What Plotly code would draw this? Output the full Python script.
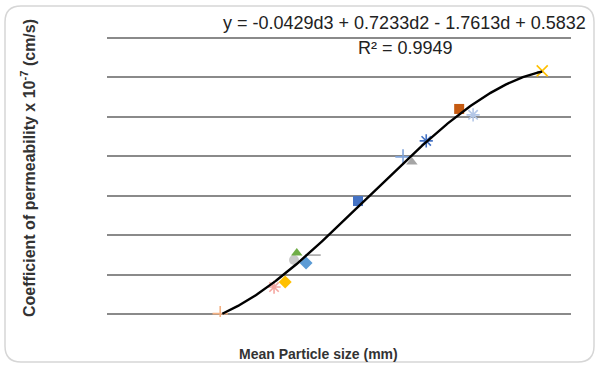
import numpy as np
import plotly.graph_objects as go

# Data (mean particle size mm, permeability x1e-7 cm/s)
sizes = [2.44, 3.60, 3.84, 4.03, 4.09, 4.29, 4.44, 5.41, 6.38, 6.57, 6.88, 7.59, 7.89, 9.38]
perm = [0.02, 1.37, 1.62, 2.74, 3.09, 2.59, 2.99, 5.73, 7.97, 7.71, 8.78, 10.40, 10.10, 12.33]
symbols = ["cross-thin-open", "asterisk-open", "diamond", "circle", "triangle-up", "diamond",
           "line-ew-open", "square", "cross-thin-open", "triangle-up", "asterisk-open", "square",
           "asterisk-open", "x-thin-open"]
colors = ["#F4B183", "#F4A6A0", "#FFC000", "#C9C9C9", "#70AD47", "#5B9BD5",
          "#A5A5A5", "#4472C4", "#7FA3D9", "#A5A5A5", "#4472C4", "#C55A11",
          "#B4C7E7", "#FFC000"]

# Trendline coefficients shown on the chart (cubic)
coef = [-0.0429, 0.7233, -1.7613, 0.5832]
eq_text = "y = -0.0429d3 + 0.7233d2 - 1.7613d + 0.5832"
r2_text = "R² = 0.9949"

x_range = [0, 10]
y_range = [-0.15, 14.15]
y_dtick = 2

W, H = 597, 365
L, R, T, B = 107, 26, 35, 48

fig = go.Figure()
for xv, yv, s, c in zip(sizes, perm, symbols, colors):
    thin = ("open" in s)
    fig.add_trace(go.Scatter(
        x=[xv], y=[yv], mode="markers",
        marker=dict(symbol=s, size=10 if not thin else 11, color=c,
                    line=dict(color=c, width=1.6 if thin else 0)),
        showlegend=False, hoverinfo="skip"))

d = np.linspace(min(sizes), max(sizes), 300)
fit = np.polyval(coef, d)
keep = fit >= 0
fig.add_trace(go.Scatter(x=d[keep], y=fit[keep], mode="lines", line=dict(color="black", width=2.4),
                         showlegend=False, hoverinfo="skip"))

pw, ph = W - L - R, H - T - B
def px(xp):
    return (xp - L) / pw
def py(yp):
    return (H - B - yp) / ph

# rounded border
x0, y0, x1, y1, r = 5, 6, 594, 362, 16
path = (f"M {px(x0+r)},{py(y0)} L {px(x1-r)},{py(y0)} Q {px(x1)},{py(y0)} {px(x1)},{py(y0+r)} "
        f"L {px(x1)},{py(y1-r)} Q {px(x1)},{py(y1)} {px(x1-r)},{py(y1)} "
        f"L {px(x0+r)},{py(y1)} Q {px(x0)},{py(y1)} {px(x0)},{py(y1-r)} "
        f"L {px(x0)},{py(y0+r)} Q {px(x0)},{py(y0)} {px(x0+r)},{py(y0)} Z")

def ann(text, x, y, size, family="Liberation Sans", angle=0, color="#222"):
    return dict(text=text, x=px(x), y=py(y), xref="paper", yref="paper", showarrow=False,
                xanchor="center", yanchor="middle", textangle=angle,
                font=dict(family=family, size=size, color=color))

fig.update_layout(
    width=W, height=H, margin=dict(l=L, r=R, t=T, b=B),
    paper_bgcolor="white", plot_bgcolor="white",
    xaxis=dict(range=x_range, showgrid=False, zeroline=False, showticklabels=False,
               showline=False, ticks=""),
    yaxis=dict(range=y_range, dtick=y_dtick, tick0=0, showgrid=True, gridcolor="#8a8a8a", gridwidth=1.5,
               zeroline=False, showticklabels=False, showline=False, ticks=""),
    shapes=[dict(type="path", path=path, xref="paper", yref="paper",
                 line=dict(color="#d6d6d6", width=1.5), layer="below")],
    annotations=[
        ann(eq_text, 404, 23, 18),
        ann(r2_text, 405, 48, 18),
        ann("<b>Coefficient of permeability x 10<sup>-7</sup> (cm/s)</b>", 28, 168, 16,
            angle=-90, color="#333"),
        ann("<b>Mean Particle size (mm)</b>", 318, 354, 14, color="#333"),
    ],
)
fig.write_html("out.html")
